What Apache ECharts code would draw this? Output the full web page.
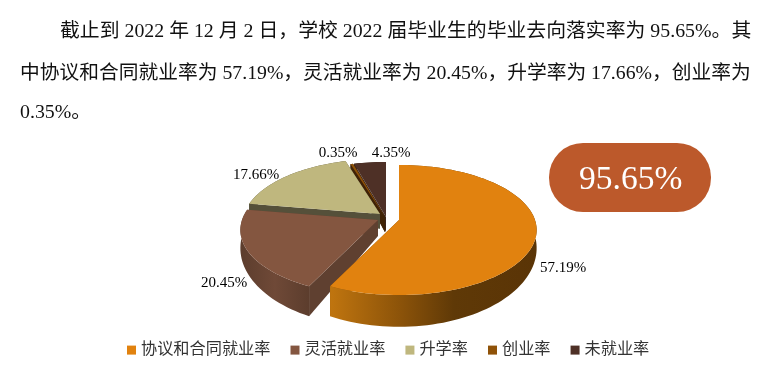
<!DOCTYPE html>
<html>
<head>
<meta charset="utf-8">
<style>html,body{margin:0;background:#fff}#chart{width:784px;height:365px}</style>
<script src="https://cdn.jsdelivr.net/npm/echarts@6/dist/echarts.min.js"></script>
</head>
<body>
<div id="chart"></div>
<script>
const categories = ['协议和合同就业率', '灵活就业率', '升学率', '创业率', '未就业率']
const rates = [57.19, 20.45, 17.66, 0.35, 4.35]
const totalRate = '95.65%'
const paragraph = [
  '截止到 2022 年 12 月 2 日，学校 2022 届毕业生的毕业去向落实率为 95.65%。其',
  '中协议和合同就业率为 57.19%，灵活就业率为 20.45%，升学率为 17.66%，创业率为',
  '0.35%。',
]

const SERIF = '"Liberation Serif","Noto Sans CJK SC"'
const TOP = ['#e1820f', '#845640', '#bfb77e', '#8f5208', '#4e3026']
const EDGE = ['#7a4a0a', '#5f4030', '#55503a', '#3f2206', '#3a2419']
const WALL = [
  [[0, '#c0750f'], [0.35, '#8a5209'], [0.6, '#5f3907'], [1, '#5a3406']],
  [[0, '#5c3d2d'], [0.5, '#6f4937'], [1, '#5c3d2d']],
  [[0, '#55503a'], [1, '#55503a']],
  [[0, '#3f2206'], [1, '#3f2206']],
  [[0, '#3a2419'], [1, '#3a2419']],
]
// hand placed: where each exploded slice has its tip, and its label
const APEX = [[399, 220], [378, 220], [380, 214], [385, 217], [386, 217]]
const LABEL = [[563, 268], [224, 283], [256, 175], [338, 153], [391, 153]]
const LINE_TOP = [22, 64, 103]
const LINE_SIZE = [19.85, 19.75, 19.85]
const RX = 136, RY = 63.5, PERSP = 0.154

function rimPoint(apex, deg) {
  const a = deg * Math.PI / 180
  const u = Math.sin(a), v = -Math.cos(a)
  const s = 1 / (1 - PERSP * v)
  return [apex[0] + RX * u * s, apex[1] + RY * v * s]
}
// wall gets taller towards the viewer
const drop = p => [p[0], p[1] + Math.max(6, 16 + (p[1] - 220) * 0.21)]

function sliceItem(idx, value) {
  const start = rates.slice(0, idx).reduce((a, b) => a + b, 0) * 3.6
  const end = start + value * 3.6
  const apex = APEX[idx]
  const rim = []
  const steps = Math.max(2, Math.ceil((end - start) / 2))
  for (let i = 0; i <= steps; i++) rim.push(rimPoint(apex, start + (end - start) * i / steps))

  const xs = rim.map(p => p[0])
  const wallFill = {
    type: 'linear', global: true,
    x: Math.min(...xs), y: 0, x2: Math.max(...xs), y2: 0,
    colorStops: WALL[idx].map(s => ({ offset: s[0], color: s[1] })),
  }

  const first = rim[0], last = rim[rim.length - 1]
  const poly = (pts, fill) => ({ type: 'polygon', shape: { points: pts }, style: { fill } })
  return {
    type: 'group',
    children: [
      poly([apex, first, drop(first), drop(apex)], EDGE[idx]),
      poly([apex, last, drop(last), drop(apex)], EDGE[idx]),
      poly(rim.concat(rim.map(drop).reverse()), wallFill),
      poly([apex].concat(rim), TOP[idx]),
      {
        type: 'text', z2: 10,
        style: {
          text: value.toFixed(2) + '%', x: LABEL[idx][0], y: LABEL[idx][1],
          align: 'center', verticalAlign: 'middle',
          fontFamily: SERIF, fontSize: 15, fill: '#000',
        },
      },
    ],
  }
}

const series = categories.map((name, idx) => ({
  name,
  type: 'custom',
  coordinateSystem: 'none',
  z: 5 - idx,
  silent: true,
  itemStyle: { color: TOP[idx] },
  data: [[rates[idx]]],
  renderItem: (params, api) => sliceItem(idx, api.value(0)),
}))

const chart = echarts.init(document.getElementById('chart'), null, { renderer: 'canvas' })
chart.setOption({
  animation: false,
  legend: {
    data: categories,
    left: 122,
    top: 337,
    icon: 'rect',
    itemWidth: 9,
    itemHeight: 9,
    itemGap: 20,
    textStyle: { fontFamily: SERIF, fontSize: 16.2, color: '#333' },
  },
  graphic: [
    ...paragraph.map((line, i) => ({
      type: 'text',
      left: i === 0 ? 60 : 20,
      top: LINE_TOP[i],
      style: { text: line, fontFamily: SERIF, fontSize: LINE_SIZE[i], fill: '#111' },
    })),
    {
      type: 'rect', left: 549, top: 143,
      shape: { width: 162, height: 69, r: 34 },
      style: { fill: '#bc592b' },
    },
    {
      type: 'text', left: 579, top: 163,
      style: { text: totalRate, fontFamily: SERIF, fontSize: 33.5, fill: '#fff' },
    },
  ],
  series,
})
window.addEventListener('resize', () => chart.resize())
</script>
</body>
</html>
